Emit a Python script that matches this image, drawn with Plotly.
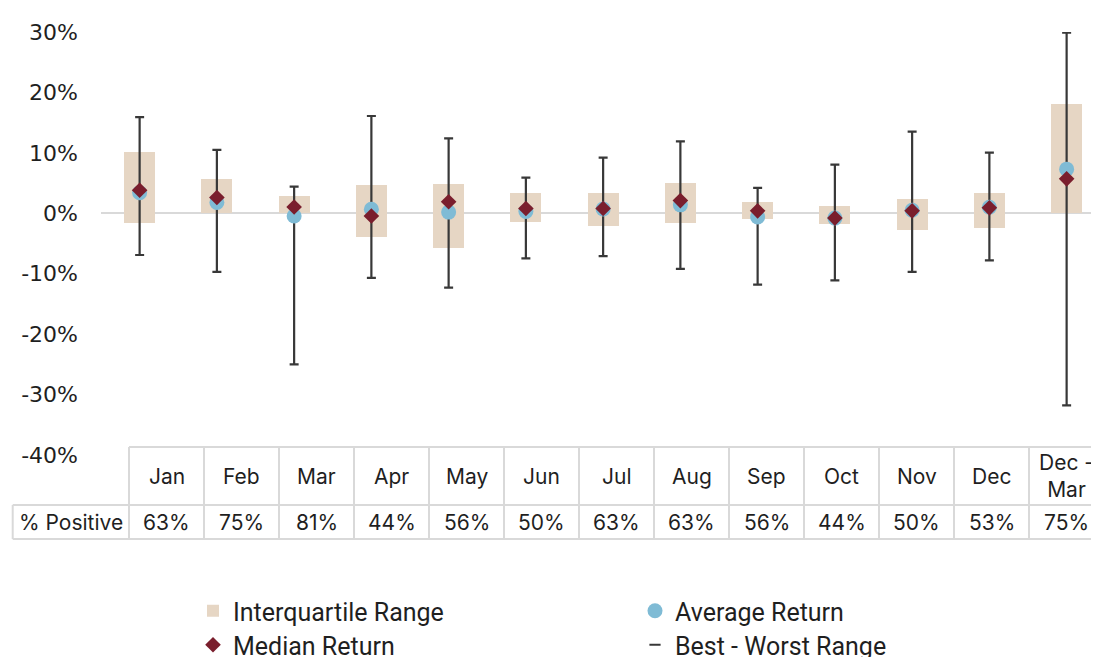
import plotly.graph_objects as go

# ---------------- data (values in %) ----------------
months = ["Jan", "Feb", "Mar", "Apr", "May", "Jun", "Jul", "Aug", "Sep", "Oct", "Nov", "Dec", "Dec - Mar"]
header_labels = ["Jan", "Feb", "Mar", "Apr", "May", "Jun", "Jul", "Aug", "Sep", "Oct", "Nov", "Dec", "Dec -<br>Mar"]
q1 = [-1.6, 0.0, 0.0, -4.0, -5.7, -1.4, -2.1, -1.6, -1.0, -1.8, -2.8, -2.45, 0.0]
q3 = [10.2, 5.7, 2.8, 4.7, 4.8, 3.3, 3.3, 5.0, 1.8, 1.2, 2.4, 3.3, 18.05]
median = [3.8, 2.6, 1.05, -0.45, 1.9, 0.8, 0.8, 2.1, 0.4, -0.8, 0.4, 0.9, 5.7]
average = [3.4, 1.8, -0.45, 0.67, 0.2, 0.3, 0.7, 1.4, -0.6, -0.8, 0.5, 1.0, 7.3]
best = [15.9, 10.5, 4.4, 16.1, 12.4, 5.9, 9.2, 11.9, 4.2, 8.05, 13.5, 10.05, 29.9]
worst = [-6.9, -9.7, -25.0, -10.7, -12.3, -7.45, -7.1, -9.2, -11.8, -11.1, -9.7, -7.8, -31.8]
pct_positive = ["63%", "75%", "81%", "44%", "56%", "50%", "63%", "63%", "56%", "44%", "50%", "53%", "75%"]
row_label = "% Positive"
tick_vals = [-40, -30, -20, -10, 0, 10, 20, 30]
tick_text = ["-40%", "-30%", "-20%", "-10%", "0%", "10%", "20%", "30%"]

# ---------------- styling ----------------
W, H = 1099, 657
OFF = 8  # page body margin offset
ML, MR, MT, MB = 101 - OFF, 0, 32 - OFF, H - (455 - OFF)
PW, PH = W - ML - MR, H - MT - MB
CAT_W = 77.25
IQR_COL = "#e6d6c4"
AVG_COL = "#7fbbd5"
MED_COL = "#7a1e2d"
WHISK_COL = "#383838"
GRID_COL = "#d9d9d9"
TXT = "#1f1f1f"


def px2x(px):
    # px given in reference-screen pixels
    return (px - OFF - ML) / PW


def py2y(py):
    return (H - MB - (py - OFF)) / PH


fig = go.Figure()

fig.add_trace(go.Bar(
    x=months, y=[b - a for a, b in zip(q1, q3)], base=q1, width=0.40,
    marker=dict(color=IQR_COL, line=dict(width=0)),
    name="Interquartile Range", legend="legend", hoverinfo="skip"))

fig.add_trace(go.Scatter(
    x=months, y=median, mode="markers",
    marker=dict(size=1, color="rgba(0,0,0,0)"),
    error_y=dict(type="data", symmetric=False,
                 array=[b - m for b, m in zip(best, median)],
                 arrayminus=[m - w for m, w in zip(median, worst)],
                 color=WHISK_COL, thickness=2.2, width=4.5),
    showlegend=False, hoverinfo="skip"))

fig.add_trace(go.Scatter(
    x=months, y=average, mode="markers",
    marker=dict(symbol="circle", size=15, color=AVG_COL),
    name="Average Return", legend="legend"))

fig.add_trace(go.Scatter(
    x=months, y=median, mode="markers",
    marker=dict(symbol="diamond", size=12, color=MED_COL),
    name="Median Return", legend="legend2"))

fig.add_trace(go.Scatter(
    x=[None], y=[None], mode="markers",
    marker=dict(symbol="line-ew-open", size=8, color=WHISK_COL, line=dict(width=2, color=WHISK_COL)),
    name="Best - Worst Range", legend="legend2"))

# ---------------- data table below chart ----------------
shapes = []
t_top, t_mid, t_bot = 447, 505, 539
t_left, col_w, lab_left = 129, 75, 12.7
t_right = t_left + col_w * len(months)
line = dict(color=GRID_COL, width=2)
shapes.append(dict(type="line", xref="paper", yref="paper", x0=px2x(t_left), x1=px2x(t_right),
                   y0=py2y(t_top), y1=py2y(t_top), line=line))
for yy in (t_mid, t_bot):
    shapes.append(dict(type="line", xref="paper", yref="paper", x0=px2x(lab_left), x1=px2x(t_right),
                       y0=py2y(yy), y1=py2y(yy), line=line))
for k in range(len(months) + 1):
    xx = t_left + col_w * k
    shapes.append(dict(type="line", xref="paper", yref="paper", x0=px2x(xx), x1=px2x(xx),
                       y0=py2y(t_top), y1=py2y(t_bot), line=line))
shapes.append(dict(type="line", xref="paper", yref="paper", x0=px2x(lab_left), x1=px2x(lab_left),
                   y0=py2y(t_mid), y1=py2y(t_bot), line=line))

annotations = []
tfont = dict(family="Inter", size=21, color=TXT)
for k, (hl, pp) in enumerate(zip(header_labels, pct_positive)):
    cx = t_left + col_w * (k + 0.5)
    annotations.append(dict(text=hl, xref="paper", yref="paper", x=px2x(cx), y=py2y((t_top + t_mid) / 2),
                            xanchor="center", yanchor="middle", showarrow=False, font=tfont,
                            align="center"))
    annotations.append(dict(text=pp, xref="paper", yref="paper", x=px2x(cx), y=py2y((t_mid + t_bot) / 2),
                            xanchor="center", yanchor="middle", showarrow=False, font=tfont))
annotations.append(dict(text=row_label, xref="paper", yref="paper", x=px2x((lab_left + t_left) / 2),
                        y=py2y((t_mid + t_bot) / 2), xanchor="center", yanchor="middle",
                        showarrow=False, font=tfont))

lfont = dict(family="Roboto, sans-serif", size=25, color=TXT)
legend_common = dict(orientation="h", xanchor="left", yanchor="middle", font=lfont,
                     entrywidth=397, entrywidthmode="pixels", itemwidth=30,
                     bgcolor="rgba(0,0,0,0)", traceorder="normal")

fig.update_layout(
    width=W, height=H,
    margin=dict(l=ML, r=MR, t=MT, b=MB, pad=0, autoexpand=False),
    paper_bgcolor="white", plot_bgcolor="white",
    bargap=0,
    xaxis=dict(type="category", range=[-0.5, -0.5 + PW / CAT_W], showticklabels=False,
               showgrid=False, zeroline=False, showline=False, ticks=""),
    yaxis=dict(range=[-40, 30], tickvals=tick_vals, ticktext=tick_text, showgrid=False,
               zeroline=True, zerolinecolor=GRID_COL, zerolinewidth=2, showline=False,
               ticks="", ticklabelstandoff=22,
               tickfont=dict(family="DejaVu Sans, sans-serif", size=22, color=TXT)),
    legend=dict(x=px2x(193), y=py2y(611), **legend_common),
    legend2=dict(x=px2x(193), y=py2y(645), **legend_common),
    shapes=shapes, annotations=annotations,
)

fig.write_html("out.html")
